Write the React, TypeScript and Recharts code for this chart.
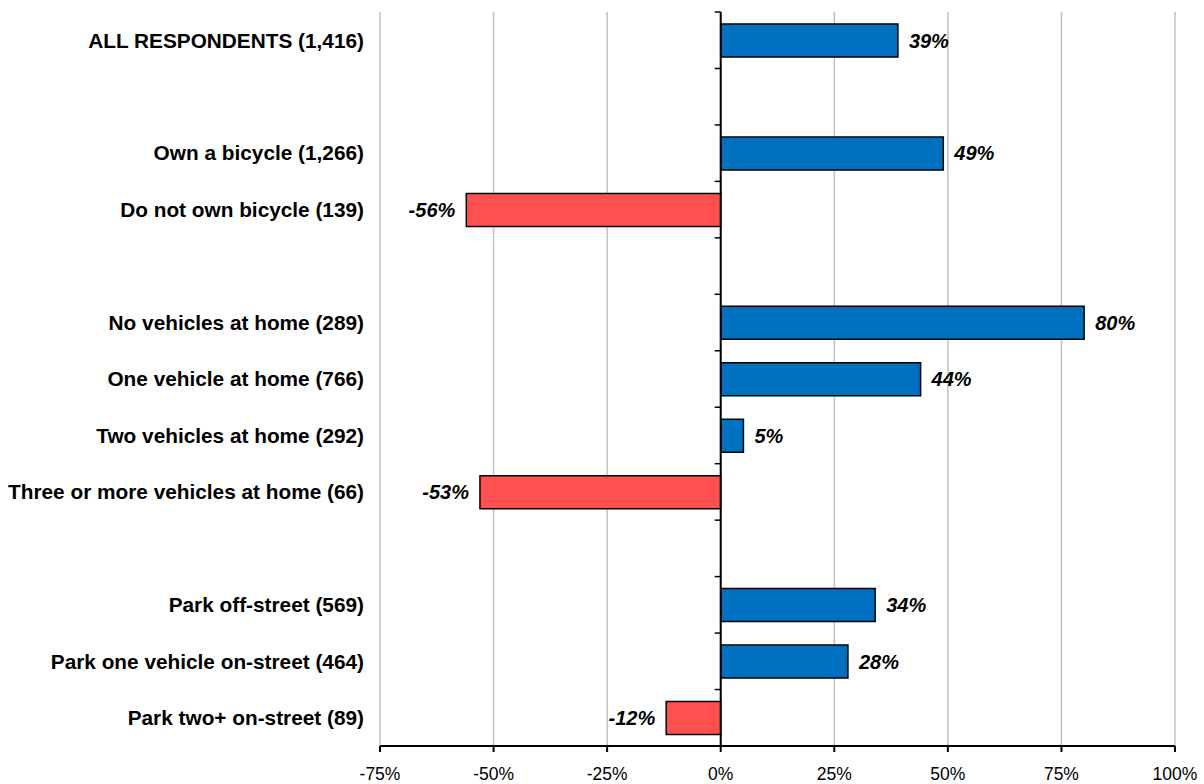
import type { FC } from "react"
import { Bar, BarChart, CartesianGrid, Cell, LabelList, ReferenceLine, XAxis, YAxis } from "recharts"

const IDS = ["all", "gap1", "own", "notown", "gap2", "veh0", "veh1", "veh2", "veh3", "gap3", "off", "on1", "on2"]
const LABELS = [
  "ALL RESPONDENTS (1,416)",
  "",
  "Own a bicycle (1,266)",
  "Do not own bicycle (139)",
  "",
  "No vehicles at home (289)",
  "One vehicle at home (766)",
  "Two vehicles at home (292)",
  "Three or more vehicles at home (66)",
  "",
  "Park off-street (569)",
  "Park one vehicle on-street (464)",
  "Park two+ on-street (89)",
]
const VALUES: (number | null)[] = [39, null, 49, -56, null, 80, 44, 5, -53, null, 34, 28, -12]
const X_TICKS = [-75, -50, -25, 0, 25, 50, 75, 100]

const data = IDS.map((id, i) => ({ id, label: LABELS[i], value: VALUES[i] }))

const W = 1204
const H = 784
const Y_AXIS_W = 380
const MARGIN = { top: 12, right: 29, bottom: 0, left: 0 }
const X_AXIS_H = 38
const PLOT_W = W - Y_AXIS_W - MARGIN.right
const PLOT_H = H - MARGIN.top - MARGIN.bottom - X_AXIS_H
const ZERO_X = Y_AXIS_W + ((0 - X_TICKS[0]) / (X_TICKS[X_TICKS.length - 1] - X_TICKS[0])) * PLOT_W
const BAND = PLOT_H / IDS.length

const FONT = "Arial, 'Liberation Sans', sans-serif"

const CategoryTick: FC<any> = ({ y, payload }) => {
  const label = LABELS[IDS.indexOf(payload.value)] ?? ""
  const top = y - BAND / 2
  return (
    <g>
      <text x={Y_AXIS_W - 16} y={y} dy="0.35em" textAnchor="end" fontFamily={FONT} fontSize={20.8} fontWeight="bold" fill="#000">
        {label}
      </text>
      <line x1={ZERO_X - 6} x2={ZERO_X} y1={top} y2={top} stroke="#000" strokeWidth={1.5} />
    </g>
  )
}

const ValueLabel: FC<any> = ({ x, y, width, height, value }) => {
  if (value == null) return null
  const end = x + width
  const neg = value < 0
  return (
    <text
      x={neg ? end - 11 : end + 11}
      y={y + height / 2}
      dy="0.35em"
      textAnchor={neg ? "end" : "start"}
      fontFamily={FONT}
      fontSize={20}
      fontWeight="bold"
      fontStyle="italic"
      fill="#000"
    >
      {`${value}%`}
    </text>
  )
}

export default function App() {
  return (
    <div style={{ position: "absolute", left: 0, top: 0, width: W, height: H, background: "#fff" }}>
      <BarChart width={W} height={H} data={data} layout="vertical" margin={MARGIN} barSize={33}>
        <CartesianGrid horizontal={false} stroke="#c0c0c0" strokeWidth={1.5} />
        <XAxis
          type="number"
          domain={[-75, 100]}
          ticks={X_TICKS}
          tickFormatter={(v: number) => `${v}%`}
          height={X_AXIS_H}
          stroke="#000"
          strokeWidth={2}
          tickSize={6}
          tickMargin={16}
          tick={{ fill: "#000", fontFamily: FONT, fontSize: 17.5 }}
          allowDataOverflow
        />
        <YAxis type="category" dataKey="id" width={Y_AXIS_W} axisLine={false} tickLine={false} tick={<CategoryTick />} interval={0} />
        <ReferenceLine x={0} stroke="#000" strokeWidth={2} ifOverflow="visible" />
        <Bar dataKey="value" stroke="#000" strokeWidth={1.5} isAnimationActive={false}>
          {data.map((d) => (
            <Cell key={d.id} fill={(d.value ?? 0) < 0 ? "#FF5050" : "#0070C0"} />
          ))}
          <LabelList dataKey="value" content={<ValueLabel />} />
        </Bar>
      </BarChart>
    </div>
  )
}
